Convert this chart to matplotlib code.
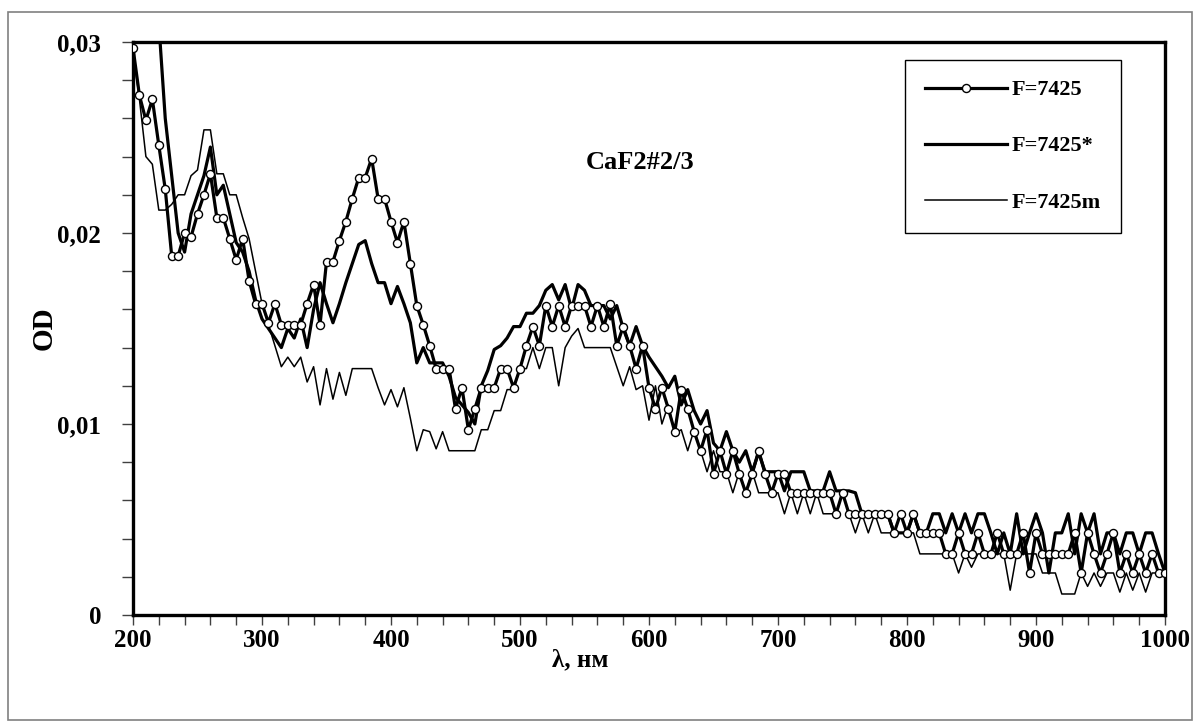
import matplotlib
matplotlib.use('Agg')
import matplotlib.pyplot as plt
from matplotlib.patches import Rectangle
from matplotlib.ticker import MultipleLocator, FuncFormatter
import numpy as np

# wavelength grid, nm
wl = np.arange(200, 1001, 5)

# optical density, in units of 1e-3
od_f7425 = [
    29.7, 27.2, 25.9, 27.0, 24.6, 22.3, 18.8, 18.8, 20.0, 19.8, 21.0, 22.0, 23.1, 20.8, 20.8, 19.7, 18.6, 19.7, 17.5, 16.3,
    16.3, 15.3, 16.3, 15.2, 15.2, 15.2, 15.2, 16.3, 17.3, 15.2, 18.5, 18.5, 19.6, 20.6, 21.8, 22.9, 22.9, 23.9, 21.8, 21.8,
    20.6, 19.5, 20.6, 18.4, 16.2, 15.2, 14.1, 12.9, 12.9, 12.9, 10.8, 11.9, 9.7, 10.8, 11.9, 11.9, 11.9, 12.9, 12.9, 11.9,
    12.9, 14.1, 15.1, 14.1, 16.2, 15.1, 16.2, 15.1, 16.2, 16.2, 16.2, 15.1, 16.2, 15.1, 16.3, 14.1, 15.1, 14.1, 12.9, 14.1,
    11.9, 10.8, 11.9, 10.8, 9.6, 11.8, 10.8, 9.6, 8.6, 9.7, 7.4, 8.6, 7.4, 8.6, 7.4, 6.4, 7.4, 8.6, 7.4, 6.4,
    7.4, 7.4, 6.4, 6.4, 6.4, 6.4, 6.4, 6.4, 6.4, 5.3, 6.4, 5.3, 5.3, 5.3, 5.3, 5.3, 5.3, 5.3, 4.3, 5.3,
    4.3, 5.3, 4.3, 4.3, 4.3, 4.3, 3.2, 3.2, 4.3, 3.2, 3.2, 4.3, 3.2, 3.2, 4.3, 3.2, 3.2, 3.2, 4.3, 2.2,
    4.3, 3.2, 3.2, 3.2, 3.2, 3.2, 4.3, 2.2, 4.3, 3.2, 2.2, 3.2, 4.3, 2.2, 3.2, 2.2, 3.2, 2.2, 3.2, 2.2,
    2.2]

od_f7425s = [
    33.0, 32.5, 32.0, 31.5, 31.0, 26.0, 23.0, 20.0, 19.0, 21.0, 22.0, 23.0, 24.5, 22.0, 22.5, 21.0, 19.5, 19.0, 18.0, 16.5,
    15.5, 15.0, 14.5, 14.0, 15.0, 14.5, 15.5, 14.0, 16.0, 17.4, 16.3, 15.3, 16.3, 17.4, 18.4, 19.4, 19.6, 18.4, 17.4, 17.4,
    16.3, 17.2, 16.3, 15.3, 13.2, 14.0, 13.2, 13.2, 13.2, 12.5, 11.4, 11.0, 10.6, 10.0, 12.0, 12.8, 13.9, 14.1, 14.5, 15.1,
    15.1, 15.8, 15.8, 16.2, 17.0, 17.3, 16.5, 17.3, 16.0, 17.3, 17.0, 16.2, 16.2, 16.2, 15.5, 16.2, 15.0, 14.1, 15.1, 14.1,
    13.5, 13.0, 12.5, 11.9, 12.5, 11.0, 11.8, 10.7, 10.0, 10.7, 9.0, 8.6, 9.6, 8.6, 8.0, 8.6, 7.5, 8.5, 7.5, 7.5,
    7.5, 6.5, 7.5, 7.5, 7.5, 6.5, 6.5, 6.5, 7.5, 6.5, 6.5, 6.5, 6.4, 5.3, 5.3, 5.3, 5.3, 5.3, 4.3, 4.3,
    4.3, 5.3, 4.3, 4.3, 5.3, 5.3, 4.3, 5.3, 4.3, 5.3, 4.3, 5.3, 5.3, 4.3, 3.2, 4.3, 3.2, 5.3, 3.2, 4.3,
    5.3, 4.3, 2.2, 4.3, 4.3, 5.3, 3.2, 5.3, 4.3, 5.3, 3.2, 4.3, 4.3, 3.2, 4.3, 4.3, 3.2, 4.3, 4.3, 3.2,
    2.2]

od_f7425m = [
    29.5, 27.0, 24.0, 23.6, 21.2, 21.2, 21.5, 22.0, 22.0, 23.0, 23.3, 25.4, 25.4, 23.1, 23.1, 22.0, 22.0, 20.8, 19.7, 18.0,
    16.3, 15.2, 14.1, 13.0, 13.5, 13.0, 13.5, 12.2, 13.0, 11.0, 12.9, 11.3, 12.7, 11.5, 12.9, 12.9, 12.9, 12.9, 11.9, 11.0,
    11.8, 10.9, 11.9, 10.3, 8.6, 9.7, 9.6, 8.7, 9.6, 8.6, 8.6, 8.6, 8.6, 8.6, 9.7, 9.7, 10.7, 10.7, 11.8, 11.8,
    12.9, 12.9, 14.0, 12.9, 14.0, 14.0, 12.0, 14.0, 14.6, 15.0, 14.0, 14.0, 14.0, 14.0, 14.0, 13.0, 12.0, 13.0, 11.8, 12.0,
    10.2, 12.0, 10.0, 11.0, 9.5, 9.7, 8.6, 9.7, 8.6, 7.5, 8.6, 7.5, 7.5, 6.4, 7.5, 6.4, 7.5, 6.4, 6.4, 6.4,
    6.4, 5.3, 6.4, 5.3, 6.4, 5.3, 6.4, 5.3, 5.3, 5.3, 6.4, 5.3, 4.3, 5.3, 4.3, 5.3, 4.3, 4.3, 4.3, 4.3,
    4.3, 4.3, 3.2, 3.2, 3.2, 3.2, 3.2, 3.2, 2.2, 3.2, 2.5, 3.2, 3.2, 3.2, 3.2, 3.2, 1.3, 3.2, 3.2, 3.2,
    3.2, 2.2, 2.2, 2.2, 1.1, 1.1, 1.1, 2.2, 1.5, 2.2, 1.5, 2.2, 2.2, 1.2, 2.2, 1.3, 2.2, 1.2, 2.2, 2.2,
    2.2]

labels = ['F=7425', 'F=7425*', 'F=7425m']
x_ticks = [200, 300, 400, 500, 600, 700, 800, 900, 1000]
y_ticks = [0, 0.01, 0.02, 0.03]

plt.rcParams['font.family'] = ['Liberation Serif', 'DejaVu Serif']
plt.rcParams['font.weight'] = 'bold'

fig = plt.figure(figsize=(12, 7.28), dpi=100)
ax = fig.add_axes([133/1200, 1-615/728, 1032/1200, 573/728])

# gray border round the whole picture
fig.patches.append(Rectangle((8/1200, 1-720/728), 1184/1200, 708/728,
                             transform=fig.transFigure, fill=False,
                             edgecolor='#808080', linewidth=1.2))

ax.plot(wl, np.array(od_f7425)/1000, color='black', lw=2.3, marker='o',
        ms=5.8, mfc='white', mec='black', mew=1.0, label=labels[0], zorder=3)
ax.plot(wl, np.array(od_f7425s)/1000, color='black', lw=2.3,
        label=labels[1], zorder=2)
ax.plot(wl, np.array(od_f7425m)/1000, color='black', lw=1.1,
        label=labels[2], zorder=1)

ax.set_xlim(200, 1000)
ax.set_ylim(0, 0.03)
ax.set_xticks(x_ticks)
ax.set_yticks(y_ticks)
ax.xaxis.set_minor_locator(MultipleLocator(20))
ax.yaxis.set_minor_locator(MultipleLocator(0.002))
ax.yaxis.set_major_formatter(FuncFormatter(
    lambda v, p: '0' if v == 0 else ('%.2f' % v).replace('.', ',')))

for side in ['top', 'bottom', 'left', 'right']:
    ax.spines[side].set_linewidth(2.4)
ax.tick_params(which='both', direction='out', top=False, right=False,
               width=1.0, color='#404040')
ax.tick_params(axis='x', which='both', length=7, pad=3, labelsize=18)
ax.tick_params(axis='y', which='both', length=8, pad=15, labelsize=18)
for lab in ax.get_xticklabels() + ax.get_yticklabels():
    lab.set_fontweight('bold')

ax.set_xlabel('λ, нм', fontsize=18, fontweight='bold')
ax.xaxis.set_label_coords(0.433, -0.058)
ax.set_ylabel('OD', fontsize=21, fontweight='bold')
ax.yaxis.set_label_coords(-0.073, 0.5)

ax.text(0.491, 0.79, 'CaF2#2/3', transform=ax.transAxes, ha='center',
        va='center', fontsize=19, fontweight='bold')

leg = ax.legend(loc='upper left', bbox_to_anchor=(0.748, 0.969),
                borderaxespad=0, fancybox=False, framealpha=1,
                edgecolor='black', handlelength=3.7, handletextpad=0.2,
                labelspacing=1.6, borderpad=0.9,
                prop={'size': 16, 'weight': 'bold'})
leg.get_frame().set_linewidth(1.0)

fig.savefig('out.png', dpi=100)
